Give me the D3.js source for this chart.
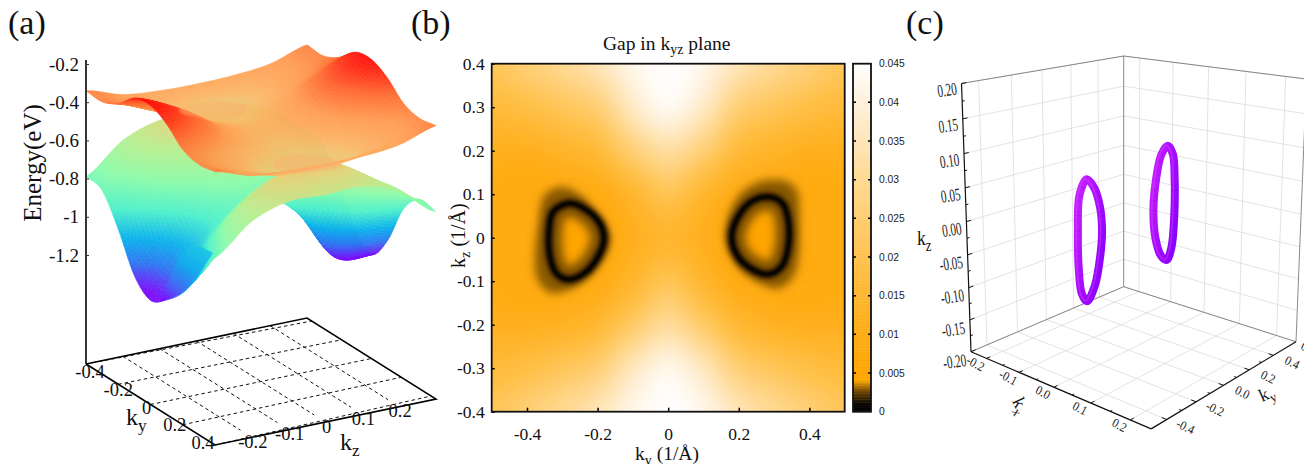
<!DOCTYPE html>
<html>
<head>
<meta charset="utf-8">
<script src="https://cdnjs.cloudflare.com/ajax/libs/d3/7.8.5/d3.min.js"></script>
<style>
body { margin: 0; background: #fff; overflow: hidden; }
text { font-family: "Liberation Serif", serif; fill: #111; }
</style>
</head>
<body>
<script>
// panel (a): band energies on the ky / kz grid
var kyA = [-0.4, -0.3, -0.2, -0.1, 0, 0.1, 0.2, 0.3, 0.4];
var kzA = [-0.3, -0.2, -0.1, 0, 0.1, 0.2, 0.3];
var upperBand = [
  [-0.34, -0.40, -0.42, -0.425, -0.42, -0.40, -0.34],
  [-0.345, -0.40, -0.47, -0.50, -0.47, -0.40, -0.345],
  [-0.30, -0.38, -0.46, -0.49, -0.46, -0.38, -0.30],
  [-0.22, -0.31, -0.42, -0.47, -0.42, -0.31, -0.22],
  [-0.205, -0.28, -0.40, -0.45, -0.40, -0.28, -0.205],
  [-0.25, -0.32, -0.42, -0.47, -0.42, -0.32, -0.25],
  [-0.33, -0.39, -0.47, -0.49, -0.47, -0.39, -0.33],
  [-0.355, -0.42, -0.49, -0.50, -0.49, -0.42, -0.355],
  [-0.34, -0.40, -0.42, -0.425, -0.42, -0.40, -0.34]
];
var lowerBand = [
  [-0.79, -0.64, -0.575, -0.58, -0.575, -0.64, -0.79],
  [-0.81, -0.64, -0.53, -0.50, -0.53, -0.64, -0.81],
  [-0.96, -0.75, -0.58, -0.53, -0.58, -0.78, -0.96],
  [-1.15, -0.95, -0.76, -0.68, -0.76, -1.05, -1.15],
  [-1.225, -1.00, -0.85, -0.80, -0.93, -1.20, -1.225],
  [-1.17, -0.92, -0.75, -0.70, -0.76, -1.02, -1.10],
  [-1.08, -0.78, -0.62, -0.56, -0.58, -0.78, -0.88],
  [-0.94, -0.66, -0.53, -0.50, -0.53, -0.66, -0.78],
  [-0.79, -0.64, -0.575, -0.58, -0.575, -0.64, -0.79]
];
// fold of the lower band at the front, along kz = -0.3
var foldKy = [0.388, 0.307, 0.245, 0.183, 0.133, 0.059, 0.028, 0.183, 0.289];
var foldE = [-0.772, -0.778, -0.811, -0.891, -1.012, -1.203, -1.23, -1.095, -0.949];
var energyTicks = [-0.2, -0.4, -0.6, -0.8, -1, -1.2];
var kyTicksA = [-0.4, -0.2, 0, 0.2, 0.4];
var kzTicksA = [-0.2, -0.1, 0, 0.1, 0.2];

// panel (b): gap on a 0.1 grid, top row is kz = 0.4
var kyB = [-0.5, -0.4, -0.3, -0.2, -0.1, 0, 0.1, 0.2, 0.3, 0.4, 0.5];
var kzB = [0.4, 0.3, 0.2, 0.1, 0, -0.1, -0.2, -0.3, -0.4];
var gapGrid = [
  [0.022, 0.026, 0.030, 0.035, 0.042, 0.045, 0.042, 0.035, 0.030, 0.026, 0.022],
  [0.017, 0.019, 0.022, 0.026, 0.037, 0.043, 0.037, 0.026, 0.022, 0.019, 0.017],
  [0.012, 0.012, 0.014, 0.017, 0.026, 0.032, 0.026, 0.017, 0.014, 0.012, 0.012],
  [0.010, 0.009, 0.009, 0.010, 0.015, 0.021, 0.015, 0.010, 0.009, 0.009, 0.010],
  [0.010, 0.009, 0.007, 0.008, 0.012, 0.015, 0.012, 0.008, 0.007, 0.009, 0.010],
  [0.010, 0.009, 0.009, 0.010, 0.015, 0.021, 0.015, 0.010, 0.009, 0.009, 0.010],
  [0.012, 0.012, 0.013, 0.016, 0.024, 0.031, 0.024, 0.016, 0.013, 0.012, 0.012],
  [0.017, 0.019, 0.022, 0.026, 0.036, 0.042, 0.036, 0.026, 0.022, 0.019, 0.017],
  [0.022, 0.026, 0.030, 0.035, 0.042, 0.045, 0.042, 0.035, 0.030, 0.026, 0.022]
];
var ringLeft = [[-0.279, 0.079], [-0.326, 0.06], [-0.338, 0.01], [-0.335, -0.044], [-0.317, -0.082], [-0.284, -0.096], [-0.232, -0.078], [-0.194, -0.036], [-0.182, -0.002], [-0.194, 0.033], [-0.232, 0.064]];
var ringRight = [[0.284, 0.094], [0.236, 0.083], [0.198, 0.048], [0.18, 0.002], [0.198, -0.044], [0.241, -0.074], [0.284, -0.084], [0.321, -0.067], [0.34, -0.021], [0.34, 0.041], [0.324, 0.079]];
var haloLeft = [[-0.302, 0.117], [-0.35, 0.098], [-0.366, 0.041], [-0.373, -0.09], [-0.336, -0.126], [-0.279, -0.119], [-0.213, -0.074], [-0.168, -0.005], [-0.203, 0.048], [-0.25, 0.098]];
var haloRight = [[0.307, 0.133], [0.26, 0.129], [0.198, 0.094], [0.165, 0.01], [0.203, -0.067], [0.269, -0.109], [0.317, -0.116], [0.359, -0.082], [0.371, 0.041], [0.364, 0.11], [0.336, 0.129]];
var xTicksB = [-0.4, -0.2, 0, 0.2, 0.4];
var yTicksB = [0.4, 0.3, 0.2, 0.1, 0, -0.1, -0.2, -0.3, -0.4];
var barTicks = [0, 0.005, 0.01, 0.015, 0.02, 0.025, 0.03, 0.035, 0.04, 0.045];

// panel (c): axis ticks
var kxTicksC = [-0.2, -0.1, 0, 0.1, 0.2];
var kyTicksC = [-0.4, -0.2, 0, 0.2, 0.4];
var kzTicksC = [-0.2, -0.15, -0.1, -0.05, 0, 0.05, 0.1, 0.15, 0.2];

var svg = d3.select("body").append("svg").attr("width", 1304).attr("height", 464);
var defs = svg.append("defs");
[0.3, 0.6, 1, 1.5, 2, 3, 4, 9].forEach(function(s) {
  defs.append("filter").attr("id", "blur" + String(s).replace(".", "_"))
    .attr("x", "-30%").attr("y", "-30%").attr("width", "160%").attr("height", "160%")
    .append("feGaussianBlur").attr("stdDeviation", s);
});
var ringGrad = defs.append("linearGradient").attr("id", "ringGrad")
  .attr("x1", 0).attr("y1", 0).attr("x2", 1).attr("y2", 1);
ringGrad.append("stop").attr("offset", "0%").attr("stop-color", "#c822ff");
ringGrad.append("stop").attr("offset", "55%").attr("stop-color", "#a50cff");
ringGrad.append("stop").attr("offset", "100%").attr("stop-color", "#8400fa");
var foldGrad = defs.append("linearGradient").attr("id", "foldGrad")
  .attr("gradientUnits", "userSpaceOnUse")
  .attr("x1", 205).attr("y1", 245).attr("x2", 165).attr("y2", 304);
foldGrad.append("stop").attr("offset", "0%").attr("stop-color", "#22cce4");
foldGrad.append("stop").attr("offset", "40%").attr("stop-color", "#14a8ee");
foldGrad.append("stop").attr("offset", "75%").attr("stop-color", "#4a60f4");
foldGrad.append("stop").attr("offset", "100%").attr("stop-color", "#8000ff");

// smooth a coarse table for drawing only
function cr(a, b, c, d, t) {
  return 0.5 * (2 * b + (c - a) * t + (2 * a - 5 * b + 4 * c - d) * t * t + (3 * b - a - 3 * c + d) * t * t * t);
}
function sample(tab, r, c) {
  var nr = tab.length, nc = tab[0].length;
  var r0 = Math.min(Math.floor(r), nr - 2), c0 = Math.min(Math.floor(c), nc - 2);
  var tr = r - r0, tc = c - c0, col = [];
  for (var i = -1; i <= 2; i++) {
    var row = tab[Math.max(0, Math.min(nr - 1, r0 + i))];
    col.push(cr(row[Math.max(0, c0 - 1)], row[c0], row[c0 + 1], row[Math.min(nc - 1, c0 + 2)], tc));
  }
  return cr(col[0], col[1], col[2], col[3], tr);
}

// ---------- panel (a) ----------
var yE = d3.scaleLinear().domain([-0.2, -1.2]).range([64, 255]);
var tKy = d3.scaleLinear().domain([-0.4, 0.4]).range([0, 1]);
var tKz = d3.scaleLinear().domain([-0.3, 0.3]).range([0, 1]);
var rainbow = d3.scaleLinear()
  .domain([-1.3, -1.2, -1.1, -1.0, -0.88, -0.75, -0.62, -0.52, -0.46, -0.38, -0.30, -0.2])
  .range(["#8000ff", "#7a10fa", "#2f78f2", "#0db2ec", "#50f0cc", "#8cfbaa", "#b8ee90", "#e4d37c", "#fbb565", "#ff9a50", "#ff6a30", "#ff0a05"])
  .clamp(true);

function proj(ky, kz, e) {
  return [86 + 129 * tKy(ky) + 221 * tKz(kz), yE(e) + 81 * tKy(ky) - 46 * tKz(kz)];
}
function bandQuads(tab) {
  var n = 12, quads = [];
  var kyOf = d3.scaleLinear().domain([0, kyA.length - 1]).range([-0.4, 0.4]);
  var kzOf = d3.scaleLinear().domain([0, kzA.length - 1]).range([-0.3, 0.3]);
  for (var i = 0; i < (kyA.length - 1) * n; i++) {
    for (var j = 0; j < (kzA.length - 1) * n; j++) {
      var corners = [[i, j], [i + 1, j], [i + 1, j + 1], [i, j + 1]].map(function(p) {
        var ky = kyOf(p[0] / n), kz = kzOf(p[1] / n);
        var e = sample(tab, p[0] / n, p[1] / n);
        return { ky: ky, kz: kz, e: e, xy: proj(ky, kz, e) };
      });
      quads.push({
        pts: corners.map(function(c) { return c.xy.join(","); }).join(" "),
        e: d3.mean(corners, function(c) { return c.e; }),
        depth: d3.mean(corners, function(c) { return 81 * tKy(c.ky) - 46 * tKz(c.kz); })
      });
    }
  }
  return quads.sort(function(a, b) { return a.depth - b.depth; });
}
function drawBand(tab, op) {
  var g = svg.append("g").attr("opacity", op).attr("filter", "url(#blur0_3)");
  g.selectAll("polygon").data(bandQuads(tab)).enter().append("polygon")
    .attr("points", function(d) { return d.pts; })
    .attr("fill", function(d) { return rainbow(d.e); })
    .attr("stroke", function(d) { return rainbow(d.e); })
    .attr("stroke-width", 0.5);
  return g;
}
drawBand(lowerBand, 1);
svg.append("path")
  .attr("d", d3.line()
    .x(function(d, i) { return proj(foldKy[i], -0.3, foldE[i])[0]; })
    .y(function(d, i) { return proj(foldKy[i], -0.3, foldE[i])[1]; })
    .curve(d3.curveLinearClosed)(foldKy))
  .attr("fill", "url(#foldGrad)").attr("filter", "url(#blur0_6)");
var upperG = drawBand(upperBand, 0.98);
// lower band touching the upper one along the nodal rings
[ringLeft, ringRight].forEach(function(r) {
  upperG.append("path")
    .attr("d", d3.line().curve(d3.curveCatmullRomClosed)
      .x(function(d) { return proj(d[0], d[1], -0.49)[0]; })
      .y(function(d) { return proj(d[0], d[1] * 0.55, -0.49)[1]; })(r))
    .attr("fill", "#fcae6c").attr("opacity", 0.5).attr("filter", "url(#blur1)");
});

var axA = svg.append("g").attr("transform", "translate(86,0)")
  .call(d3.axisLeft(yE).tickValues(energyTicks).tickSize(-3).tickPadding(7).tickFormat(function(d) { return d; }));
axA.select(".domain").remove();
axA.selectAll("line").attr("stroke", "#333").attr("stroke-width", 1);
axA.selectAll("text").attr("font-size", 19).attr("font-family", "Liberation Serif").attr("dy", "0.32em");
svg.append("line").attr("x1", 86).attr("x2", 86).attr("y1", 60).attr("y2", 364).attr("stroke", "#333").attr("stroke-width", 2);

// base plane of (a)
function baseXY(ky, kz) { return [86 + 129 * tKy(ky) + 221 * tKz(kz), 364 + 81 * tKy(ky) - 46 * tKz(kz)]; }
var dashSegs = [];
kyTicksA.forEach(function(ky) { dashSegs.push([baseXY(ky, -0.3), baseXY(ky * 0.925, 0.3)]); });
kzTicksA.forEach(function(kz) { dashSegs.push([baseXY(-0.4, kz), baseXY(0.33, kz)]); });
svg.selectAll(".dash").data(dashSegs).enter().append("line").attr("class", "dash")
  .attr("x1", function(d) { return d[0][0]; }).attr("y1", function(d) { return d[0][1]; })
  .attr("x2", function(d) { return d[1][0]; }).attr("y2", function(d) { return d[1][1]; })
  .attr("stroke", "#111").attr("stroke-width", 1).attr("stroke-dasharray", "3.5 3");
svg.append("path")
  .attr("d", d3.line()([baseXY(-0.4, -0.3), baseXY(-0.4, 0.3), baseXY(0.4, 0.3), baseXY(0.4, -0.3), baseXY(-0.4, -0.3)]))
  .attr("fill", "none").attr("stroke", "#000").attr("stroke-width", 1.6);

var lkyDx = d3.scaleLinear().domain([-0.4, 0.4]).range([4, -12]);
var lkyDy = d3.scaleLinear().domain([-0.4, 0.4]).range([14, 4]);
svg.selectAll(".lky").data(kyTicksA).enter().append("text").attr("class", "lky")
  .attr("x", function(d) { return baseXY(d, -0.3)[0] + lkyDx(d); })
  .attr("y", function(d) { return baseXY(d, -0.3)[1] + lkyDy(d); })
  .attr("text-anchor", "middle").attr("font-size", 18.5)
  .text(function(d) { return d; });
svg.selectAll(".lkz").data(kzTicksA).enter().append("text").attr("class", "lkz")
  .attr("x", function(d) { return baseXY(0.4, d)[0] + 1; })
  .attr("y", function(d) { return baseXY(0.4, d)[1] + 10.5; })
  .attr("text-anchor", "middle").attr("font-size", 18.5)
  .text(function(d) { return d; });

function subLabel(x, y, base, sub, size, rot) {
  var t = svg.append("text").attr("font-size", size)
    .attr("transform", "translate(" + x + "," + y + ")" + (rot ? " rotate(" + rot + ")" : ""));
  t.append("tspan").text(base);
  t.append("tspan").attr("font-size", size * 0.72).attr("dy", size * 0.25).text(sub);
  return t;
}
subLabel(126, 425, "k", "y", 24);
subLabel(340, 450, "k", "z", 24);
svg.append("text").attr("font-size", 25)
  .attr("transform", "translate(41,163) rotate(-90)").attr("text-anchor", "middle").text("Energy(eV)");

// panel letters
svg.append("text").attr("x", 8).attr("y", 34).attr("font-size", 34).text("(a)");
svg.append("text").attr("x", 411).attr("y", 34).attr("font-size", 34).text("(b)");
svg.append("text").attr("x", 906).attr("y", 34).attr("font-size", 34).text("(c)");

// ---------- panel (b) ----------
var xB = d3.scaleLinear().domain([-0.5, 0.5]).range([491.7, 844.7]);
var yB = d3.scaleLinear().domain([-0.4, 0.4]).range([411.7, 63.7]);
var gapColor = d3.scaleLinear()
  .domain([0, 0.001, 0.0025, 0.004, 0.01, 0.02, 0.03, 0.04, 0.045])
  .range(["#000000", "#0d0800", "#6a4400", "#ffa500", "#ffac14", "#ffc24e", "#ffd993", "#fff1dc", "#ffffff"])
  .clamp(true);

var up = 16;
var nx = (kyB.length - 1) * up, ny = (kzB.length - 1) * up;
var field = [];
for (var r = 0; r < ny; r++) {
  for (var c = 0; c < nx; c++) {
    field.push(sample(gapGrid, (r + 0.5) / up, (c + 0.5) / up));
  }
}
var levels = d3.range(0.006, 0.0455, 0.0006);
var cellX = d3.scaleLinear().domain([0, nx]).range(xB.range());
var cellY = d3.scaleLinear().domain([0, ny]).range([yB(0.4), yB(-0.4)]);
var gridPath = d3.geoPath(d3.geoTransform({
  point: function(x, y) { this.stream.point(cellX(x), cellY(y)); }
}));
defs.append("clipPath").attr("id", "frameB")
  .append("rect").attr("x", 491.7).attr("y", 63.7).attr("width", 353).attr("height", 348);
var map = svg.append("g").attr("clip-path", "url(#frameB)");
map.append("rect").attr("x", 491.7).attr("y", 63.7).attr("width", 353).attr("height", 348).attr("fill", gapColor(0.0065));
map.selectAll(".lev").data(d3.contours().size([nx, ny]).thresholds(levels)(field)).enter().append("path").attr("class", "lev")
  .attr("d", gridPath)
  .attr("fill", function(d) { return gapColor(d.value); });

var lineB = d3.line().curve(d3.curveCatmullRomClosed).x(function(d) { return xB(d[0]); }).y(function(d) { return yB(d[1]); });
[[ringLeft, haloLeft, "rl"], [ringRight, haloRight, "rr"]].forEach(function(o) {
  defs.append("clipPath").attr("id", o[2]).append("path").attr("d", lineB(o[0]));
  map.append("path").attr("d", lineB(o[1])).attr("fill", "#8a5a00").attr("filter", "url(#blur4)");
  var inner = map.append("g").attr("clip-path", "url(#" + o[2] + ")");
  inner.append("path").attr("d", lineB(o[0])).attr("fill", "#ffa500").attr("filter", "url(#blur9)");
  inner.append("path").attr("d", lineB(o[0])).attr("fill", "none").attr("stroke", "#5a3a00").attr("stroke-opacity", 0.65).attr("stroke-width", 28).attr("filter", "url(#blur4)");
  map.append("path").attr("d", lineB(o[0])).attr("fill", "none").attr("stroke", "#6d4700").attr("opacity", 0.7).attr("stroke-width", 13).attr("filter", "url(#blur3)");
  map.append("path").attr("d", lineB(o[0])).attr("fill", "none").attr("stroke", "#1c1000").attr("stroke-width", 7).attr("filter", "url(#blur2)");
  map.append("path").attr("d", lineB(o[0])).attr("fill", "none").attr("stroke", "#000").attr("stroke-width", 3.5).attr("filter", "url(#blur1_5)");
});

var axBx = svg.append("g").attr("transform", "translate(0,411.7)")
  .call(d3.axisBottom(xB).tickValues(xTicksB).tickSize(-4).tickPadding(16).tickFormat(function(d) { return d; }));
var axBy = svg.append("g").attr("transform", "translate(491.7,0)")
  .call(d3.axisLeft(yB).tickValues(yTicksB).tickSize(-3).tickPadding(7).tickFormat(function(d) { return d; }));
[axBx, axBy].forEach(function(a) {
  a.select(".domain").remove();
  a.selectAll("line").attr("stroke", "#000").attr("stroke-width", 1.5);
  a.selectAll("text").attr("font-size", 17.5).attr("font-family", "Liberation Serif");
});
svg.append("rect").attr("x", 491.7).attr("y", 63.7).attr("width", 353).attr("height", 348)
  .attr("fill", "none").attr("stroke", "#111").attr("stroke-width", 1.8);

// colour bar
var yBar = d3.scaleLinear().domain([0, 0.045]).range([411.7, 63.7]);
svg.selectAll(".bar").data(d3.range(0, 0.045, 0.0002)).enter().append("rect").attr("class", "bar")
  .attr("x", 853).attr("width", 18)
  .attr("y", function(d) { return yBar(d + 0.0002); })
  .attr("height", 2)
  .attr("fill", function(d) { return gapColor(d); });
svg.append("rect").attr("x", 853).attr("y", 63.7).attr("width", 18).attr("height", 348)
  .attr("fill", "none").attr("stroke", "#111").attr("stroke-width", 1.8);
svg.selectAll(".bt").data(barTicks.slice(1, -1)).enter().append("path").attr("class", "bt")
  .attr("d", function(d) { var y = yBar(d); return "M853," + y + "h3M871," + y + "h-3"; })
  .attr("stroke", "#000").attr("stroke-width", 1.5);
svg.selectAll(".bl").data(barTicks).enter().append("text").attr("class", "bl")
  .attr("x", 879).attr("y", function(d) { return yBar(d) + 3.5; })
  .style("font-family", "'Liberation Sans', sans-serif").style("fill", "#222")
  .attr("font-size", 10.3).text(function(d) { return d; });

svg.append("text").attr("font-size", 19.5).attr("x", 603).attr("y", 50)
  .call(function(t) {
    t.append("tspan").text("Gap in k");
    t.append("tspan").attr("font-size", 14).attr("dy", 4).text("yz");
    t.append("tspan").attr("dy", -4).text(" plane");
  });
subLabel(635, 460, "k", "y", 19.5).call(function(t) { t.append("tspan").attr("dy", -5).text(" (1/Å)"); });
subLabel(465, 268, "k", "z", 20, -90).call(function(t) { t.append("tspan").attr("dy", -5).text(" (1/Å)"); });

// ---------- panel (c) ----------
// projective map of the box, three edges out of the back corner plus weights
var O = [1123.7, 286.7], A = [971, 351.7], B = [1296, 341.7], C = [1123.7, 56];
var wa = 0.855, wb = 0.874, wc = 0.95;
var sKy = d3.scaleLinear().domain([0.6, -0.5]).range([0, 1]);
var sKx = d3.scaleLinear().domain([-0.25, 0.25]).range([0, 1]);
var sKz = d3.scaleLinear().domain([-0.2, 0.2]).range([0, 1]);
function pc(kx, ky, kz) {
  var u = sKy(ky), v = sKx(kx), w = sKz(kz);
  var X = O[0] + u * (wa * A[0] - O[0]) + v * (wb * B[0] - O[0]) + w * (wc * C[0] - O[0]);
  var Y = O[1] + u * (wa * A[1] - O[1]) + v * (wb * B[1] - O[1]) + w * (wc * C[1] - O[1]);
  var Z = 1 + u * (wa - 1) + v * (wb - 1) + w * (wc - 1);
  return [X / Z, Y / Z];
}
function segs(list, cls, color, width) {
  svg.selectAll("." + cls).data(list).enter().append("line").attr("class", cls)
    .attr("x1", function(d) { return d[0][0]; }).attr("y1", function(d) { return d[0][1]; })
    .attr("x2", function(d) { return d[1][0]; }).attr("y2", function(d) { return d[1][1]; })
    .attr("stroke", color).attr("stroke-width", width);
}
var kxE = [-0.25, 0.25], kyE = [-0.5, 0.6], kzE = [-0.2, 0.2];
var gridC = [];
kzTicksC.forEach(function(z) {
  gridC.push([pc(kxE[0], kyE[0], z), pc(kxE[0], kyE[1], z)]);
  gridC.push([pc(kxE[0], kyE[1], z), pc(kxE[1], kyE[1], z)]);
});
kyTicksC.forEach(function(y) {
  gridC.push([pc(kxE[0], y, kzE[0]), pc(kxE[0], y, kzE[1])]);
  gridC.push([pc(kxE[0], y, kzE[0]), pc(kxE[1], y, kzE[0])]);
});
kxTicksC.forEach(function(x) {
  gridC.push([pc(x, kyE[1], kzE[0]), pc(x, kyE[1], kzE[1])]);
  gridC.push([pc(x, kyE[0], kzE[0]), pc(x, kyE[1], kzE[0])]);
});
segs(gridC, "gridc", "#dcdcdc", 0.8);
segs([
  [pc(kxE[0], kyE[0], kzE[1]), pc(kxE[0], kyE[1], kzE[1])],
  [pc(kxE[0], kyE[1], kzE[1]), pc(kxE[1], kyE[1], kzE[1])],
  [pc(kxE[0], kyE[1], kzE[0]), pc(kxE[0], kyE[1], kzE[1])],
  [pc(kxE[0], kyE[0], kzE[0]), pc(kxE[0], kyE[1], kzE[0])],
  [pc(kxE[0], kyE[1], kzE[0]), pc(kxE[1], kyE[1], kzE[0])],
  [pc(kxE[1], kyE[1], kzE[0]), pc(kxE[1], kyE[1], kzE[1])]
], "edgec", "#7d7d7d", 0.9);
segs([
  [pc(kxE[0], kyE[0], kzE[0]), pc(kxE[0], kyE[0], kzE[1])],
  [pc(kxE[0], kyE[0], kzE[0]), pc(kxE[1], kyE[0], kzE[0])],
  [pc(kxE[1], kyE[0], kzE[0]), pc(kxE[1], kyE[1], kzE[0])]
], "axisc", "#111", 1.2);

var tickC = [];
d3.range(-0.2, 0.2001, 0.025).forEach(function(z, i) {
  tickC.push([pc(kxE[0], kyE[0], z), pc(kxE[0], kyE[0] + (i % 2 ? 0.015 : 0.028), z)]);
});
d3.range(-0.2, 0.2001, 0.05).forEach(function(x, i) {
  tickC.push([pc(x, kyE[0], kzE[0]), pc(x, kyE[0] + (i % 2 ? 0.012 : 0.022), kzE[0])]);
});
d3.range(-0.4, 0.4001, 0.1).forEach(function(y, i) {
  tickC.push([pc(kxE[1], y, kzE[0]), pc(kxE[1] - (i % 2 ? 0.006 : 0.012), y, kzE[0])]);
});
segs(tickC, "tickc", "#111", 1);

// nodal rings at kx = 0
var lineC = d3.line().curve(d3.curveCatmullRomClosed)
  .x(function(d) { return pc(0, d[0], d[1])[0]; }).y(function(d) { return pc(0, d[0], d[1])[1]; });
[ringRight, ringLeft].forEach(function(r) {
  svg.append("path").attr("d", lineC(r)).attr("fill", "none").attr("stroke", "url(#ringGrad)").attr("stroke-width", 8);
  svg.append("path").attr("d", lineC(r)).attr("fill", "none").attr("stroke", "#6c00c8").attr("stroke-opacity", 0.16).attr("stroke-width", 7).attr("stroke-dasharray", "1 5 1 9 1 3");
  svg.append("path").attr("d", lineC(r)).attr("fill", "none").attr("stroke", "#e850ff").attr("stroke-opacity", 0.35).attr("stroke-width", 1.6)
    .attr("transform", "translate(-1.5,-0.5)").attr("filter", "url(#blur0_6)");
});

function tiltText(x, y, str, rot, size, sx, anchor) {
  svg.append("text").attr("font-size", size).attr("text-anchor", anchor || "middle")
    .attr("transform", "translate(" + x + "," + y + ") rotate(" + rot + ") scale(" + sx + ",1)")
    .style("fill", "#222").text(str);
}
kzTicksC.forEach(function(z) {
  var p = pc(kxE[0], kyE[0], z);
  tiltText(p[0] - 4, p[1] + 11 + (0.2 - z) * 8, z.toFixed(2), -8, 18, 0.62, "end");
});
kxTicksC.forEach(function(x) {
  var p = pc(x, kyE[0], kzE[0]);
  tiltText(p[0] - 13, p[1] + 9, x.toFixed(1), 28, 13, 0.9);
});
kyTicksC.forEach(function(y) {
  var p = pc(kxE[1], y, kzE[0]);
  tiltText(p[0] + 17, p[1] + 11, y.toFixed(1), 26, 13, 0.9);
});
tiltText(1300, 349, "0.6", 26, 13, 0.9, "start");
subLabel(917, 245, "k", "z", 22, 0).attr("transform", "translate(917,245) scale(0.8,1)");
subLabel(1012, 401, "k", "x", 18, 65);
subLabel(1262, 402, "k", "y", 18, -24);
</script>
</body>
</html>
